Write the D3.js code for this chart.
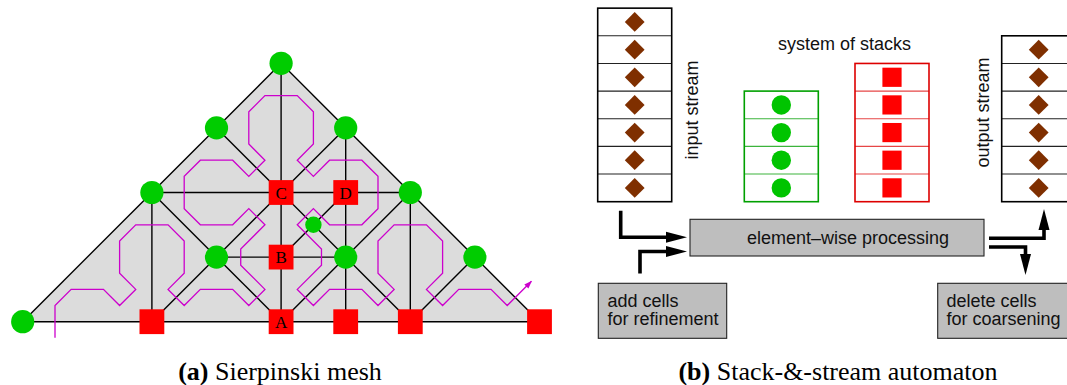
<!DOCTYPE html>
<html><head><meta charset="utf-8">
<script src="https://cdn.jsdelivr.net/npm/d3@7"></script>
<style>body{margin:0;background:#fff} svg{display:block}</style>
</head><body>
<svg id="fig" width="1067" height="385"></svg>
<script>
// ---- (a) Sierpinski mesh, coordinates in grid units ----
const outline = [[0,0],[4,4],[8,0]];
const meshEdges = [
  [[0,0],[8,0]], [[0,0],[4,4]], [[4,4],[8,0]],
  [[4,4],[4,0]], [[2,2],[6,2]], [[3,3],[4,2]], [[5,3],[4,2]],
  [[5,3],[5,0]], [[2,2],[2,0]], [[2,2],[4,0]], [[2,0],[4,2]],
  [[3,1],[5,1]], [[4,2],[6,0]], [[5,2],[4,1]], [[4,0],[6,2]],
  [[6,2],[6,0]], [[6,0],[7,1]]
];
const circleNodes = [[0,0],[4,4],[3,3],[5,3],[2,2],[6,2],[3,1],[5,1],[7,1]];
const smallCircleNodes = [[4.5,1.5]];
const squareNodes = [
  {p:[2,0], label:""}, {p:[4,0], label:"A"}, {p:[5,0], label:""},
  {p:[6,0], label:""}, {p:[8,0], label:""},
  {p:[4,1], label:"B"}, {p:[4,2], label:"C"}, {p:[5,2], label:"D"}
];
// traversal order of the cells (Sierpinski curve)
const curve = [
  [0.5,-0.25],[0.5,0.25],[0.75,0.5],[1.25,0.5],[1.5,0.25],[1.75,0.5],[1.5,0.75],
  [1.5,1.25],[1.75,1.5],[2.25,1.5],[2.5,1.25],[2.5,0.75],[2.25,0.5],[2.5,0.25],
  [2.75,0.5],[3.25,0.5],[3.5,0.25],[3.75,0.5],[3.375,0.875],[3.375,1.125],
  [3.75,1.5],[3.5,1.75],[3.25,1.5],[2.75,1.5],[2.5,1.75],[2.5,2.25],[2.75,2.5],
  [3.25,2.5],[3.5,2.25],[3.75,2.5],[3.5,2.75],[3.5,3.25],[3.75,3.5],[4.25,3.5],
  [4.5,3.25],[4.5,2.75],[4.25,2.5],[4.5,2.25],[4.75,2.5],[5.25,2.5],[5.5,2.25],
  [5.5,1.75],[5.25,1.5],[4.75,1.5],[4.5,1.75],[4.25,1.5],[4.625,1.125],
  [4.625,0.875],[4.25,0.5],[4.5,0.25],[4.75,0.5],[5.25,0.5],[5.5,0.25],
  [5.75,0.5],[5.5,0.75],[5.5,1.25],[5.75,1.5],[6.25,1.5],[6.5,1.25],[6.5,0.75],
  [6.25,0.5],[6.5,0.25],[6.75,0.5],[7.25,0.5],[7.5,0.25],[7.875,0.625]
];

// ---- (b) stack-&-stream automaton ----
const inputStream  = ["diamond","diamond","diamond","diamond","diamond","diamond","diamond"];
const greenStack   = ["circle","circle","circle","circle"];
const redStack     = ["square","square","square","square","square"];
const outputStream = ["diamond","diamond","diamond","diamond","diamond","diamond"];
const stackTitle   = "system of stacks";
const streamLabels = ["input stream", "output stream"];
const processLabel = ["element\u2013wise processing"];
const refineLabel  = ["add cells", "for refinement"];
const coarsenLabel = ["delete cells", "for coarsening"];
const captions = [
  {tag:"(a)", text:" Sierpinski mesh", cx:280},
  {tag:"(b)", text:" Stack-&-stream automaton", cx:838}
];

const svg = d3.select("#fig");
const sans = "'Liberation Sans', Arial, Helvetica, sans-serif";
const serif = "'Liberation Serif', 'Times New Roman', serif";

// ===== mesh =====
const x = d3.scaleLinear().domain([0,8]).range([22.7,539.5]);
const y = d3.scaleLinear().domain([0,4]).range([321.7,63.3]);
const pt = d => [x(d[0]), y(d[1])];
const mesh = svg.append("g");

mesh.append("path")
  .attr("d", d3.line()(outline.map(pt)) + "Z")
  .attr("fill", "#dcdcdc").attr("stroke", "none");

mesh.append("g").selectAll("line").data(meshEdges).join("line")
  .attr("x1", d => x(d[0][0])).attr("y1", d => y(d[0][1]))
  .attr("x2", d => x(d[1][0])).attr("y2", d => y(d[1][1]))
  .attr("stroke", "#000").attr("stroke-width", 1.4);

svg.append("defs").append("marker")
  .attr("id", "curveHead").attr("markerUnits", "userSpaceOnUse")
  .attr("viewBox", "0 -5 10 10").attr("refX", 9).attr("refY", 0)
  .attr("markerWidth", 10).attr("markerHeight", 8).attr("orient", "auto")
  .append("path").attr("d", "M0,-3.6L10,0L0,3.6Z").attr("fill", "#cc00cc");

mesh.append("path")
  .attr("d", d3.line()(curve.map(pt)))
  .attr("fill", "none").attr("stroke", "#cc00cc").attr("stroke-width", 1.3)
  .attr("stroke-linejoin", "miter")
  .attr("marker-end", "url(#curveHead)");

mesh.append("g").selectAll("circle").data(circleNodes).join("circle")
  .attr("cx", d => x(d[0])).attr("cy", d => y(d[1])).attr("r", 11.6)
  .attr("fill", "#00cc00");
mesh.append("g").selectAll("circle").data(smallCircleNodes).join("circle")
  .attr("cx", d => x(d[0])).attr("cy", d => y(d[1])).attr("r", 8.2)
  .attr("fill", "#00cc00");

const sq = 24.8;
const sqG = mesh.append("g").selectAll("g").data(squareNodes).join("g")
  .attr("transform", d => `translate(${x(d.p[0])},${y(d.p[1])})`);
sqG.append("rect").attr("x", -sq/2).attr("y", -sq/2).attr("width", sq).attr("height", sq)
  .attr("fill", "#ff0000");
sqG.append("text").text(d => d.label)
  .attr("text-anchor", "middle").attr("y", 6)
  .attr("font-family", serif).attr("font-size", 17).attr("fill", "#000");

// ===== automaton =====
const cellH = 27.65, boxW = 74, stackBottom = 201.7;

function drawStack(items, left, style) {
  const top = stackBottom - items.length * cellH;
  const band = d3.scaleBand().domain(d3.range(items.length)).range([top, stackBottom]);
  const g = svg.append("g");
  g.selectAll("line.div").data(d3.range(1, items.length)).join("line")
    .attr("x1", left).attr("x2", left + boxW)
    .attr("y1", i => band(i)).attr("y2", i => band(i))
    .attr("stroke", style.divider).attr("stroke-width", 1.1);
  g.append("rect").attr("x", left).attr("y", top).attr("width", boxW)
    .attr("height", stackBottom - top).attr("fill", "none")
    .attr("stroke", style.border).attr("stroke-width", 1.6);
  const cx = left + 37;
  const sym = g.selectAll("g.sym").data(items).join("g")
    .attr("transform", (d, i) => `translate(${cx},${band(i) + band.bandwidth()/2})`);
  sym.each(function(d) {
    const s = d3.select(this);
    if (d === "diamond") {
      s.append("path").attr("d", d3.symbol(d3.symbolSquare, 196)())
        .attr("transform", "rotate(45)").attr("fill", "#7f2f00");
    } else if (d === "circle") {
      s.append("circle").attr("r", 9.7).attr("fill", "#00c400");
    } else {
      s.append("rect").attr("x", -9.6).attr("y", -9.6).attr("width", 19.2)
        .attr("height", 19.2).attr("fill", "#ff0000");
    }
  });
}

drawStack(inputStream, 597.7, {border:"#000", divider:"#222"});
drawStack(greenStack, 744.3, {border:"#00a000", divider:"#3cb43c"});
drawStack(redStack, 855, {border:"#dd0000", divider:"#e64646"});
drawStack(outputStream, 1001.7, {border:"#000", divider:"#222"});

svg.append("text").text(stackTitle)
  .attr("x", 844.5).attr("y", 50).attr("text-anchor", "middle")
  .attr("font-family", sans).attr("font-size", 18).attr("fill", "#111");

svg.selectAll("text.stream").data(streamLabels).join("text")
  .text(d => d)
  .attr("transform", (d, i) => i === 0 ? "translate(698,110) rotate(-90)" : "translate(989,112.5) rotate(-90)")
  .attr("text-anchor", "middle")
  .attr("font-family", sans).attr("font-size", 18).attr("fill", "#111");

function grayBox(x0, y0, w, h) {
  svg.append("rect").attr("x", x0).attr("y", y0).attr("width", w).attr("height", h)
    .attr("fill", "#bebebe").attr("stroke", "#222").attr("stroke-width", 1.1);
}
grayBox(690, 219.3, 294, 36.7);
grayBox(598.3, 283.3, 128.4, 55);
grayBox(937.7, 283.3, 130, 55);

svg.append("text").text(processLabel[0])
  .attr("x", 848).attr("y", 244).attr("text-anchor", "middle")
  .attr("font-family", sans).attr("font-size", 18).attr("fill", "#111");

function multiLine(lines, x0, y0) {
  svg.append("g").selectAll("text").data(lines).join("text")
    .text(d => d).attr("x", x0).attr("y", (d, i) => y0 + i * 18)
    .attr("font-family", sans).attr("font-size", 18).attr("fill", "#111");
}
multiLine(refineLabel, 607.5, 306.7);
multiLine(coarsenLabel, 946.5, 306.7);

// data-flow arrows
const arrows = [
  {pts:[[620.7,210.7],[620.7,237.3],[668,237.3]], dir:"right"},
  {pts:[[640,273.5],[640,251.5],[668,251.5]], dir:"right"},
  {pts:[[989,238.3],[1044,238.3],[1044,228]], dir:"up"},
  {pts:[[989,247],[1025.5,247],[1025.5,256]], dir:"down"}
];
const headLen = 21, headHalf = 5.5;
arrows.forEach(a => {
  svg.append("path").attr("d", d3.line()(a.pts))
    .attr("fill", "none").attr("stroke", "#000").attr("stroke-width", 3.6)
    .attr("stroke-linejoin", "miter");
  const [ex, ey] = a.pts[a.pts.length - 1];
  let head;
  if (a.dir === "right") head = [[ex-2, ey-headHalf],[ex-2+headLen, ey],[ex-2, ey+headHalf]];
  else if (a.dir === "up") head = [[ex-headHalf, ey+2],[ex, ey+2-headLen],[ex+headHalf, ey+2]];
  else head = [[ex-headHalf, ey-2],[ex, ey-2+headLen],[ex+headHalf, ey-2]];
  svg.append("path").attr("d", d3.line()(head) + "Z").attr("fill", "#000");
});

// captions
const cap = svg.append("g").selectAll("text").data(captions).join("text")
  .attr("x", d => d.cx).attr("y", 380).attr("text-anchor", "middle")
  .attr("font-family", serif).attr("font-size", 26).attr("fill", "#000");
cap.append("tspan").attr("font-weight", "bold").text(d => d.tag);
cap.append("tspan").text(d => d.text);
</script>
</body></html>
